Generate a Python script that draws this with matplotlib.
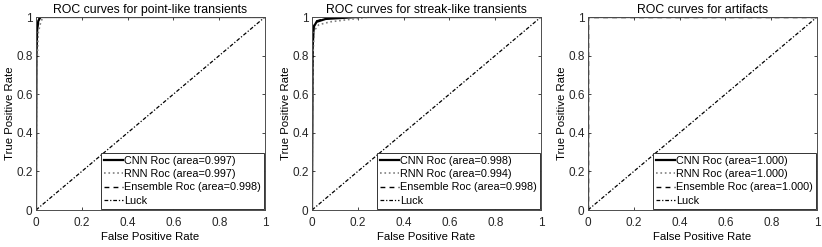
import numpy as np
import matplotlib.pyplot as plt

plt.rcParams['font.family'] = ['Liberation Sans', 'DejaVu Sans']

titles = ['ROC curves for point-like transients',
          'ROC curves for streak-like transients',
          'ROC curves for artifacts']

# ROC points (fpr, tpr) per panel
cnn_fpr = [[0, 0.002, 0.005, 0.01, 0.02, 1],
           [0, 0.003, 0.008, 0.02, 0.06, 0.2, 1],
           [0, 0.0, 1]]
cnn_tpr = [[0, 0.80, 0.93, 0.98, 1.0, 1.0],
           [0, 0.85, 0.95, 0.975, 0.99, 1.0, 1.0],
           [0, 1.0, 1.0]]
rnn_fpr = [[0, 0.004, 0.01, 0.02, 0.03, 1],
           [0, 0.004, 0.01, 0.03, 0.08, 0.25, 1],
           [0, 0.0, 1]]
rnn_tpr = [[0, 0.75, 0.92, 0.97, 1.0, 1.0],
           [0, 0.80, 0.93, 0.96, 0.975, 1.0, 1.0],
           [0, 1.0, 1.0]]
ens_fpr = [[0, 0.002, 0.006, 0.015, 1],
           [0, 0.003, 0.008, 0.02, 0.05, 0.15, 1],
           [0, 0.0, 1]]
ens_tpr = [[0, 0.82, 0.95, 1.0, 1.0],
           [0, 0.86, 0.955, 0.98, 0.99, 1.0, 1.0],
           [0, 1.0, 1.0]]
cnn_auc = ['0.997', '0.998', '1.000']
rnn_auc = ['0.997', '0.994', '1.000']
ens_auc = ['0.998', '0.998', '1.000']

fig = plt.figure(figsize=(8.22, 2.47), dpi=100)
lefts = [36, 312, 588]
W, H = 822, 247

for i in range(3):
    ax = fig.add_axes([lefts[i]/W, 1 - 210/H, 229/W, (210 - 17)/H])
    ax.plot(cnn_fpr[i], cnn_tpr[i], '-', color='k', lw=1.6,
            label=f'CNN Roc (area={cnn_auc[i]})')
    ax.plot(rnn_fpr[i], rnn_tpr[i], ':', color='0.5', lw=1.2,
            label=f'RNN Roc (area={rnn_auc[i]})')
    ax.plot(ens_fpr[i], ens_tpr[i], color='k', lw=1.0, dashes=(3.5, 3),
            label=f'Ensemble Roc (area={ens_auc[i]})')
    ax.plot([0, 1], [0, 1], color='k', lw=0.9, dashes=(3, 1.5, 1, 1.5),
            label='Luck')

    ax.set_xlim(0, 1)
    ax.set_ylim(0, 1)
    ax.set_xticks([0, 0.2, 0.4, 0.6, 0.8, 1])
    ax.set_yticks([0, 0.2, 0.4, 0.6, 0.8, 1])
    ax.set_xticklabels(['0', '0.2', '0.4', '0.6', '0.8', '1'])
    ax.set_yticklabels(['0', '0.2', '0.4', '0.6', '0.8', '1'])
    ax.tick_params(direction='in', length=2.5, width=0.6, top=True, right=True,
                   labelsize=8.5, colors='0.15')
    ax.tick_params(axis='x', pad=5)
    ax.tick_params(axis='y', pad=2.5)
    for s in ax.spines.values():
        s.set_color('0.3')
        s.set_linewidth(0.7)
    ax.set_title(titles[i], fontsize=8.8, pad=3)
    ax.set_xlabel('False Positive Rate', fontsize=8.2, labelpad=2)
    ax.set_ylabel('True Positive Rate', fontsize=8.2, labelpad=1)

    leg = ax.legend(loc='lower right', fontsize=7.8, borderaxespad=0.1,
                    fancybox=False, framealpha=1, handlelength=1.7,
                    handletextpad=0.1, borderpad=0.3, labelspacing=0.3)
    leg.get_frame().set_edgecolor('0.2')
    leg.get_frame().set_linewidth(0.7)

fig.savefig('out.png', dpi=100)
